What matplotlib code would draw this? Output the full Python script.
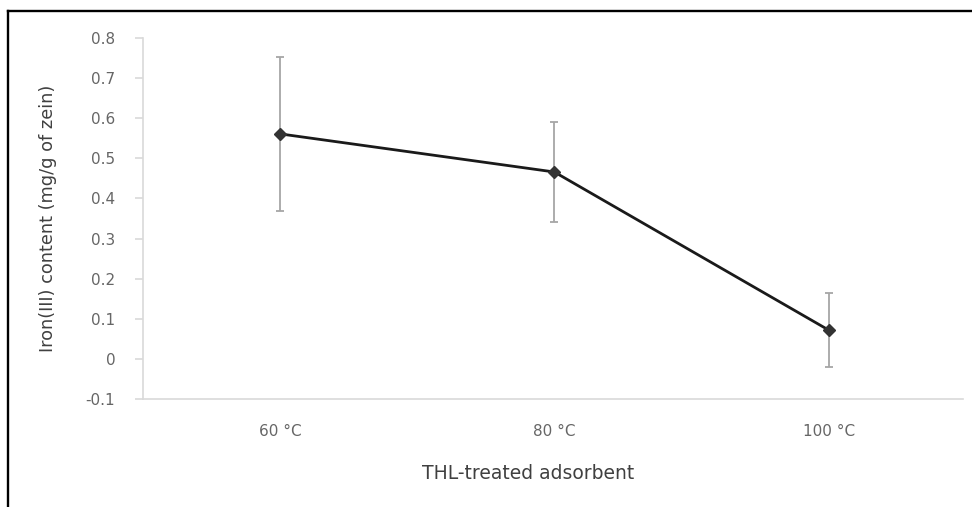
import matplotlib.pyplot as plt
from matplotlib.lines import Line2D

# Data
categories = ["60 °C", "80 °C", "100 °C"]
iron_content = [0.561, 0.466, 0.072]
iron_error = [0.192, 0.125, 0.093]
y_ticks = [-0.1, 0, 0.1, 0.2, 0.3, 0.4, 0.5, 0.6, 0.7, 0.8]

plt.rcParams['font.family'] = ['DejaVu Sans']

fig = plt.figure(figsize=(9.72, 5.07), dpi=100)
ax = fig.add_axes([0.1471, 0.213, 0.8436, 0.712])

x = list(range(len(categories)))

# Error bars (grey) then the line with diamond markers
ax.errorbar(x, iron_content, yerr=iron_error, fmt='none', ecolor='#a6a6a6',
            elinewidth=1.3, capsize=3, capthick=1.3, zorder=2)
ax.plot(x, iron_content, color='#1a1a1a', linewidth=2.0, marker='D',
        markersize=6.5, markerfacecolor='#333333', markeredgecolor='#333333',
        zorder=3)

ax.set_xlim(-0.5, 2.49)
ax.set_ylim(-0.1, 0.8)
ax.set_yticks(y_ticks)
ax.set_yticklabels([f"{v:g}" for v in y_ticks])
ax.set_xticks(x)
ax.set_xticklabels(categories)

for side in ['top', 'right']:
    ax.spines[side].set_visible(False)
for side in ['left', 'bottom']:
    ax.spines[side].set_color('#d9d9d9')
    ax.spines[side].set_linewidth(1.2)

ax.tick_params(axis='y', colors='#d9d9d9', length=6, width=1.2,
               labelcolor='#666666', labelsize=11, pad=14)
ax.tick_params(axis='x', length=0, labelcolor='#666666', labelsize=11, pad=18)

ax.set_xlabel("THL-treated adsorbent", fontsize=13.5, color='#404040')
ax.xaxis.set_label_coords(0.47, -0.18)
ax.set_ylabel("Iron(III) content (mg/g of zein)", fontsize=12.8, color='#404040')
ax.yaxis.set_label_coords(-0.105, 0.5)

# Partial black frame around the figure (left and top edges)
fig.add_artist(Line2D([8 / 972, 8 / 972], [0, 1 - 11 / 507],
                      color='black', linewidth=1.7, transform=fig.transFigure))
fig.add_artist(Line2D([8 / 972, 1], [1 - 11 / 507, 1 - 11 / 507],
                      color='black', linewidth=1.7, transform=fig.transFigure))

fig.savefig("out.png", dpi=100)
